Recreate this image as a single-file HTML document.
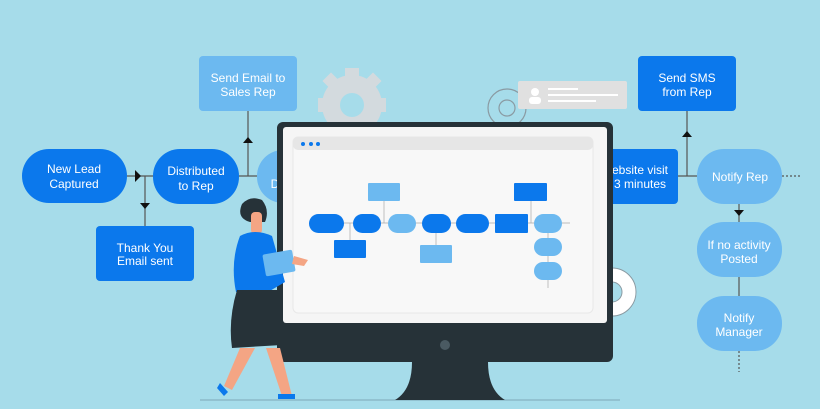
<!DOCTYPE html>
<html><head><meta charset="utf-8"><style>
html,body{margin:0;padding:0;background:#a6dcea;}
svg{display:block}
text{font-family:"Liberation Sans",sans-serif;font-size:12px;fill:#fff;text-anchor:middle}
</style></head><body>
<svg width="820" height="409" viewBox="0 0 820 409" xmlns="http://www.w3.org/2000/svg">
<rect width="820" height="409" fill="#a6dcea"/>
<!-- gears -->
<g fill="#d3dade">
<circle cx="352" cy="105" r="30"/>
<rect x="345" y="68" width="14" height="12"/><rect x="318" y="98" width="12" height="14"/><rect x="374" y="98" width="12" height="14"/>
<rect x="325" y="75" width="12" height="12" transform="rotate(45 331 81)"/><rect x="367" y="75" width="12" height="12" transform="rotate(45 373 81)"/>
</g>
<circle cx="352" cy="105" r="12" fill="#a6dcea"/>
<g fill="none" stroke="#8a9aa2" stroke-width="1.2">
<circle cx="507" cy="108" r="19"/><circle cx="507" cy="108" r="8"/>
</g>
<g fill="#fff" stroke="#8a9aa2" stroke-width="1"><circle cx="612" cy="292" r="24"/></g>
<circle cx="612" cy="292" r="10" fill="#a6dcea" stroke="#8a9aa2"/>
<!-- gray card -->
<rect x="518" y="81" width="109" height="28" rx="2" fill="#e0e0e0"/>
<circle cx="535" cy="92" r="4" fill="#fff"/><rect x="529" y="97" width="12" height="7" rx="3" fill="#fff"/>
<rect x="548" y="88" width="30" height="2" fill="#fff"/><rect x="548" y="94" width="70" height="2" fill="#fff"/><rect x="548" y="100" width="48" height="2" fill="#fff"/>
<!-- connectors -->
<g stroke="#555" stroke-width="1.2" fill="none">
<line x1="127" y1="176" x2="153" y2="176"/><line x1="145" y1="176" x2="145" y2="226"/>
<line x1="239" y1="176" x2="260" y2="176"/><line x1="248" y1="176" x2="248" y2="111"/>
<line x1="678" y1="176" x2="697" y2="176"/><line x1="687" y1="176" x2="687" y2="111"/>
<line x1="739" y1="204" x2="739" y2="296"/>
<line x1="782" y1="176" x2="800" y2="176" stroke-dasharray="2 2"/>
<line x1="739" y1="351" x2="739" y2="372" stroke-dasharray="2 2"/>
</g>
<g fill="#111">
<polygon points="135,170 141,176 135,182"/><polygon points="140,203 150,203 145,209"/>
<polygon points="243,143 253,143 248,137"/><polygon points="682,137 692,137 687,131"/>
<polygon points="734,210 744,210 739,216"/>
</g>
<!-- left nodes -->
<rect x="22" y="149" width="105" height="54" rx="27" fill="#0b78ec"/>
<text x="74" y="173">New Lead</text><text x="74" y="188">Captured</text>
<rect x="153" y="149" width="86" height="55" rx="27" fill="#0b78ec"/>
<text x="196" y="175">Distributed</text><text x="196" y="190">to Rep</text>
<rect x="199" y="56" width="98" height="55" rx="4" fill="#6cb9f0"/>
<text x="248" y="82">Send Email to</text><text x="248" y="96">Sales Rep</text>
<rect x="96" y="226" width="98" height="55" rx="4" fill="#0b78ec"/>
<text x="145" y="252">Thank You</text><text x="145" y="265">Email sent</text>
<rect x="257" y="150" width="60" height="53" rx="26" fill="#6cb9f0"/>
<text x="275" y="188">D</text>
<!-- right nodes -->
<rect x="590" y="149" width="88" height="55" rx="4" fill="#0b78ec"/>
<text x="640" y="174">ebsite visit</text><text x="640" y="188">3 minutes</text>
<rect x="638" y="56" width="98" height="55" rx="4" fill="#0b78ec"/>
<text x="687" y="82">Send SMS</text><text x="687" y="96">from Rep</text>
<rect x="697" y="149" width="85" height="55" rx="27" fill="#6cb9f0"/>
<text x="740" y="181">Notify Rep</text>
<rect x="697" y="222" width="85" height="55" rx="27" fill="#6cb9f0"/>
<text x="739" y="249">If no activity</text><text x="739" y="263">Posted</text>
<rect x="697" y="296" width="85" height="55" rx="27" fill="#6cb9f0"/>
<text x="739" y="322">Notify</text><text x="739" y="336">Manager</text>
<!-- monitor -->
<line x1="200" y1="400" x2="620" y2="400" stroke="#7fa9b8" stroke-width="1"/>
<path d="M412 362 Q412 390 395 400 L505 400 Q488 390 488 362 Z" fill="#263238"/>
<rect x="277" y="122" width="336" height="240" rx="6" fill="#263238"/>
<rect x="283" y="127" width="324" height="196" rx="3" fill="#f5f5f5"/>
<circle cx="445" cy="345" r="5" fill="#4a5a62"/>
<rect x="293" y="137" width="300" height="176" rx="5" fill="#f8f8f8" stroke="#e8e8e8"/>
<rect x="293" y="137" width="300" height="13" rx="5" fill="#e6e6e6"/>
<g fill="#0b78ec"><circle cx="303" cy="144" r="2"/><circle cx="311" cy="144" r="2"/><circle cx="318" cy="144" r="2"/></g>
<g stroke="#aaa" stroke-width="0.7"><line x1="309" y1="223" x2="570" y2="223"/><line x1="384" y1="201" x2="384" y2="223"/><line x1="350" y1="223" x2="350" y2="240"/><line x1="436" y1="223" x2="436" y2="245"/><line x1="531" y1="201" x2="531" y2="223"/><line x1="548" y1="223" x2="548" y2="288"/></g>
<g fill="#0b78ec">
<rect x="309" y="214" width="35" height="19" rx="9.5"/><rect x="353" y="214" width="28" height="19" rx="9.5"/>
<rect x="422" y="214" width="29" height="19" rx="9.5"/><rect x="456" y="214" width="33" height="19" rx="9.5"/>
<rect x="495" y="214" width="33" height="19" rx="1"/>
<rect x="334" y="240" width="32" height="18" rx="1"/><rect x="514" y="183" width="33" height="18" rx="1"/>
</g>
<g fill="#6cb9f0">
<rect x="388" y="214" width="28" height="19" rx="9.5"/><rect x="534" y="214" width="28" height="19" rx="9.5"/>
<rect x="534" y="238" width="28" height="18" rx="9"/><rect x="534" y="262" width="28" height="18" rx="9"/>
<rect x="368" y="183" width="32" height="18" rx="1"/><rect x="420" y="245" width="32" height="18" rx="1"/>
</g>
<!-- woman -->
<path d="M242 204 Q250 195 262 200 Q270 210 265 222 L250 222 Q236 218 242 204Z" fill="#263238"/>
<rect x="251" y="212" width="11" height="22" rx="4" fill="#f4a584"/>
<path d="M240 236 Q255 228 272 236 L285 282 L268 292 L236 292 Q230 262 240 236Z" fill="#0b78ec"/>
<path d="M237 290 L277 290 L282 345 L232 348 Q228 320 237 290Z" fill="#263238"/>
<path d="M240 348 L255 348 L232 390 L224 386Z" fill="#f4a584"/>
<path d="M266 348 L280 348 L292 396 L282 396Z" fill="#f4a584"/>
<path d="M220 383 L228 392 L224 396 L217 388Z" fill="#0b78ec"/>
<path d="M278 394 L295 394 L295 399 L278 399Z" fill="#0b78ec"/>
<rect x="264" y="252" width="30" height="22" rx="2" fill="#6cb9f0" transform="rotate(-10 279 263)"/>
<path d="M294 256 L308 260 L304 266 L292 264Z" fill="#f4a584"/>
</svg>
</body></html>
